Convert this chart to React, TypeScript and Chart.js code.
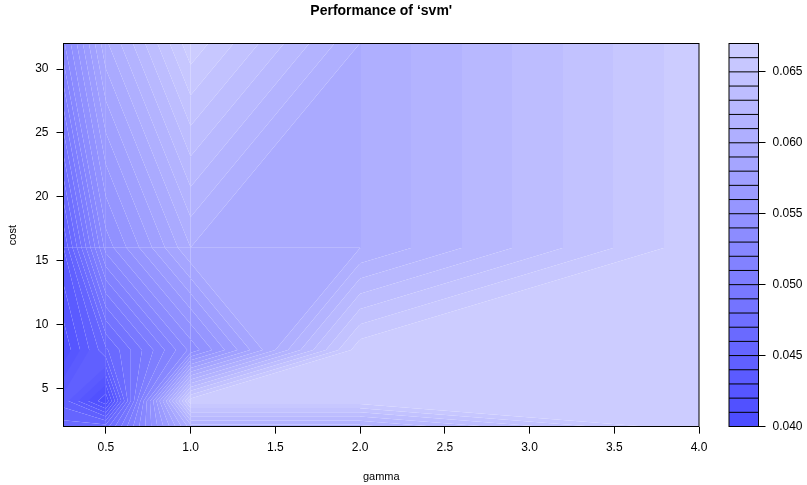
import React, { useEffect, useRef } from "react";
import { Chart, registerables } from "chart.js";

Chart.register(...registerables);

const gammaValues = [0.25, 0.5, 1, 2, 4];
const costValues = [2, 4, 8, 16, 32];

const errorAtCost2 = [0.0465, 0.0465, 0.0605, 0.0605, 0.0669];
const errorAtCost4 = [0.0445, 0.0402, 0.0667, 0.0667, 0.0667];
const errorAtCost8 = [0.0412, 0.0458, 0.0533, 0.0667, 0.0667];
const errorAtCost16 = [0.044, 0.0534, 0.05999, 0.05999, 0.0667];
const errorAtCost32 = [0.0528, 0.0598, 0.0667, 0.05999, 0.0667];
const errorRows = [errorAtCost2, errorAtCost4, errorAtCost8, errorAtCost16, errorAtCost32];

const levels = [
  0.04, 0.041, 0.042, 0.043, 0.044, 0.045, 0.046, 0.047, 0.048, 0.049, 0.05, 0.051, 0.052, 0.053,
  0.054, 0.055, 0.056, 0.057, 0.058, 0.059, 0.06, 0.061, 0.062, 0.063, 0.064, 0.065, 0.066, 0.067,
];

const gammaTicks = [0.5, 1, 1.5, 2, 2.5, 3, 3.5, 4];
const costTicks = [5, 10, 15, 20, 25, 30];
const legendTicks = [0.04, 0.045, 0.05, 0.055, 0.06, 0.065];

const FONT = "'Liberation Sans', Arial, Helvetica, sans-serif";

function bandColour(k: number) {
  const s = 0.7 - (k * 0.5) / (levels.length - 2);
  const c = Math.round(255 * (1 - s));
  return `rgb(${c},${c},255)`;
}

type V = { x: number; y: number; z: number };

function clip(poly: V[], level: number, above: boolean): V[] {
  const out: V[] = [];
  const inside = (v: V) => (above ? v.z >= level : v.z <= level);
  for (let i = 0; i < poly.length; i++) {
    const a = poly[i];
    const b = poly[(i + 1) % poly.length];
    const ia = inside(a);
    const ib = inside(b);
    if (ia) out.push(a);
    if (ia !== ib) {
      const t = (level - a.z) / (b.z - a.z);
      out.push({ x: a.x + t * (b.x - a.x), y: a.y + t * (b.y - a.y), z: level });
    }
  }
  return out;
}

// Axis-parallel band edges inside a cell land on whole pixels, so they leave no seam.
function snapStraightEdges(poly: V[], x0: number, x1: number) {
  const out = poly.map((p) => ({ ...p }));
  for (let i = 0; i < poly.length; i++) {
    const a = poly[i];
    const b = poly[(i + 1) % poly.length];
    const inner = Math.abs(a.x - x0) > 0.01 && Math.abs(a.x - x1) > 0.01;
    if (inner && Math.abs(a.x - b.x) < 0.01 && Math.abs(a.y - b.y) > 20) {
      out[i].x = Math.round(a.x);
      out[(i + 1) % poly.length].x = Math.round(a.x);
    }
  }
  return out;
}

const contourPlugin = {
  id: "filledContour",
  beforeDatasetsDraw(chart: any) {
    const { ctx, scales } = chart;
    const nearPixel = (v: number) => (Math.abs(v - Math.round(v)) < 0.1 ? Math.round(v) : v);
    for (let j = 0; j < costValues.length - 1; j++) {
      for (let i = 0; i < gammaValues.length - 1; i++) {
        const x0 = nearPixel(scales.x.getPixelForValue(gammaValues[i]));
        const x1 = nearPixel(scales.x.getPixelForValue(gammaValues[i + 1]));
        let y0 = scales.y.getPixelForValue(costValues[j]);
        let y1 = scales.y.getPixelForValue(costValues[j + 1]);
        if (i === gammaValues.length - 2) {
          y0 = Math.round(y0);
          y1 = Math.round(y1);
        }
        const cell: V[] = [
          { x: x0, y: y0, z: errorRows[j][i] },
          { x: x1, y: y0, z: errorRows[j][i + 1] },
          { x: x1, y: y1, z: errorRows[j + 1][i + 1] },
          { x: x0, y: y1, z: errorRows[j + 1][i] },
        ];
        for (let k = 0; k < levels.length - 1; k++) {
          let poly = clip(cell, levels[k], true);
          if (poly.length) poly = clip(poly, levels[k + 1], false);
          if (poly.length < 3) continue;
          poly = snapStraightEdges(poly, x0, x1);
          ctx.beginPath();
          poly.forEach((p, n) => (n ? ctx.lineTo(p.x, p.y) : ctx.moveTo(p.x, p.y)));
          ctx.closePath();
          ctx.fillStyle = bandColour(k);
          ctx.fill();
        }
      }
    }
  },
  afterDraw(chart: any) {
    const { ctx, chartArea: a } = chart;
    const bottom = Math.floor(a.bottom) + 0.5;
    ctx.save();
    ctx.strokeStyle = "#000";
    ctx.lineWidth = 1;
    ctx.strokeRect(a.left, a.top, a.right - a.left, bottom - a.top);
    ctx.restore();
  },
};

const legendPlugin = {
  id: "legendLines",
  afterDatasetsDraw(chart: any) {
    const { ctx, chartArea: a, scales } = chart;
    ctx.save();
    ctx.strokeStyle = "#000";
    ctx.lineWidth = 1;
    levels.forEach((l) => {
      const y = scales.y.getPixelForValue(l);
      ctx.beginPath();
      ctx.moveTo(a.left, y);
      ctx.lineTo(a.right, y);
      ctx.stroke();
    });
    ctx.strokeRect(a.left, a.top, a.right - a.left, a.bottom - a.top);
    ctx.restore();
  },
};

const tickFont = { family: FONT, size: 12 };

export default function App() {
  const mainRef = useRef<HTMLCanvasElement>(null);
  const legendRef = useRef<HTMLCanvasElement>(null);

  useEffect(() => {
    const points = costValues.flatMap((c) => gammaValues.map((g) => ({ x: g, y: c })));
    const main = new Chart(mainRef.current as any, {
      type: "scatter",
      data: { datasets: [{ data: points, pointRadius: 0, showLine: false }] },
      plugins: [contourPlugin],
      options: {
        animation: false,
        responsive: false,
        layout: { padding: { left: 3.5, right: 108, top: 2.6, bottom: 0 } },
        plugins: {
          legend: { display: false },
          tooltip: { enabled: false },
          title: {
            display: true,
            text: "Performance of \u2018svm'",
            color: "#000",
            fullSize: false,
            font: { family: FONT, size: 14, weight: "bold" },
            padding: { top: 0, bottom: 24.1 },
          },
        },
        scales: {
          x: {
            type: "linear",
            min: 0.25,
            max: 4,
            bounds: "data",
            afterBuildTicks: (s: any) => {
              s.ticks = gammaTicks.map((value) => ({ value }));
            },
            afterFit: (s: any) => {
              s.height = 58.35;
            },
            grid: { drawOnChartArea: false, tickLength: 7, color: "#000", lineWidth: 1 },
            border: { display: false },
            ticks: {
              color: "#000",
              font: tickFont,
              padding: 6.5,
              maxRotation: 0,
              autoSkip: false,
              callback: (v: any) => Number(v).toFixed(1),
            },
            title: {
              display: true,
              text: "gamma",
              color: "#000",
              font: { family: FONT, size: 11 },
              padding: { top: 0, bottom: 1.5 },
            },
          },
          y: {
            type: "linear",
            min: 2,
            max: 32,
            bounds: "data",
            afterBuildTicks: (s: any) => {
              s.ticks = costTicks.map((value) => ({ value }));
            },
            afterFit: (s: any) => {
              s.width = 60;
            },
            grid: { drawOnChartArea: false, tickLength: 7, color: "#000", lineWidth: 1 },
            border: { display: false },
            ticks: { color: "#000", font: tickFont, padding: 8, autoSkip: false },
            title: {
              display: true,
              text: "cost",
              color: "#000",
              font: { family: FONT, size: 11 },
              padding: { top: 3, bottom: 0 },
            },
          },
        },
      } as any,
    });

    const legend = new Chart(legendRef.current as any, {
      type: "bar",
      data: {
        labels: ["error"],
        datasets: levels.slice(0, -1).map((l, k) => ({
          data: [[l, levels[k + 1]]] as any,
          backgroundColor: bandColour(k),
          borderWidth: 0,
          barPercentage: 1,
          categoryPercentage: 1,
          grouped: false,
        })),
      },
      plugins: [legendPlugin],
      options: {
        animation: false,
        responsive: false,
        layout: { padding: { left: 729, right: 0, top: 43.5, bottom: 58.5 } },
        plugins: { legend: { display: false }, tooltip: { enabled: false } },
        scales: {
          x: { display: false },
          y: {
            position: "right",
            min: 0.04,
            max: 0.067,
            bounds: "data",
            afterBuildTicks: (s: any) => {
              s.ticks = legendTicks.map((value) => ({ value }));
            },
            afterFit: (s: any) => {
              s.width = 48.5;
            },
            grid: { drawOnChartArea: false, tickLength: 7, color: "#000", lineWidth: 1 },
            border: { display: false },
            ticks: {
              color: "#000",
              font: tickFont,
              padding: 7,
              autoSkip: false,
              callback: (v: any) => Number(v).toFixed(3),
            },
          },
        },
      } as any,
    });

    return () => {
      main.destroy();
      legend.destroy();
    };
  }, []);

  const style: React.CSSProperties = { position: "absolute", left: 0, top: 0, display: "block" };
  return (
    <div style={{ position: "absolute", left: 0, top: 0, width: 807, height: 485, background: "#fff" }}>
      <canvas ref={mainRef} width={807} height={485} style={style} />
      <canvas ref={legendRef} width={807} height={485} style={style} />
    </div>
  );
}
